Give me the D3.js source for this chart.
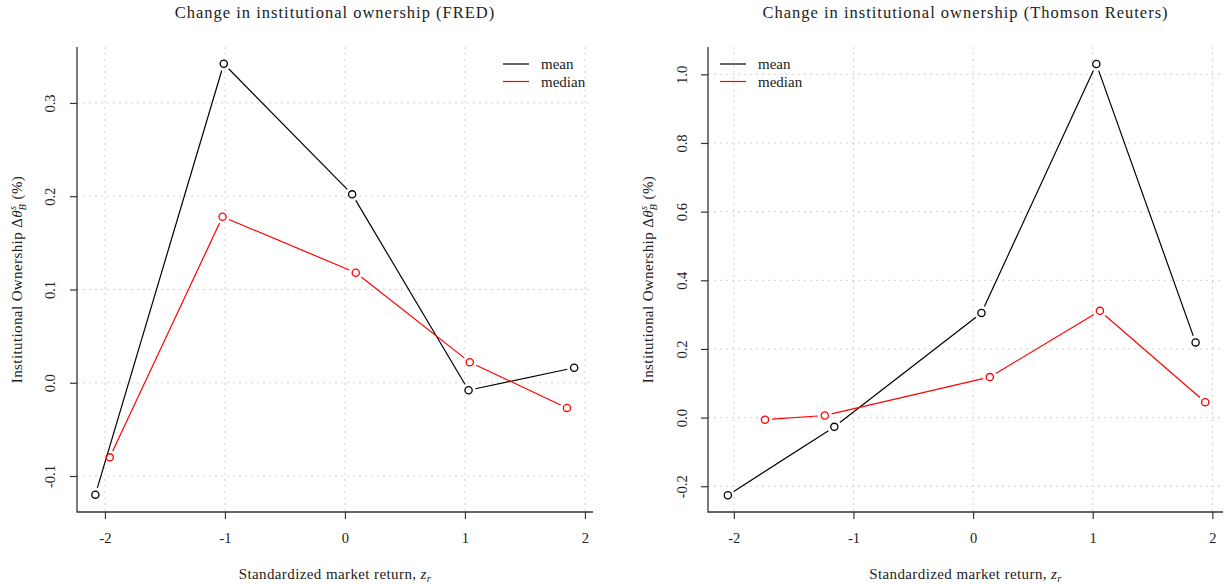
<!DOCTYPE html>
<html>
<head>
<meta charset="utf-8">
<script src="https://cdn.jsdelivr.net/npm/d3@7"></script>
<style>
  body { margin: 0; background: #fff; }
  text { font-family: "Liberation Serif", "DejaVu Serif", serif; fill: #222; }
  .grid line { stroke: #d0d0d0; stroke-dasharray: 2,4; stroke-width: 1; }
</style>
</head>
<body>
<svg id="chart" width="1224" height="584"></svg>
<script>
// ---- DATA ---- //
const seriesNames = ["mean", "median"];
const seriesColors = ["#000000", "#ff0000"];

// FRED panel
const fredMeanX = [-2.08, -1.01, 0.06, 1.03, 1.91];
const fredMeanY = [-0.120, 0.342, 0.202, -0.008, 0.016];
const fredMedianX = [-1.96, -1.02, 0.09, 1.04, 1.85];
const fredMedianY = [-0.080, 0.178, 0.118, 0.022, -0.027];

// Thomson Reuters panel
const trMeanX = [-2.05, -1.16, 0.07, 1.03, 1.86];
const trMeanY = [-0.226, -0.027, 0.305, 1.030, 0.219];
const trMedianX = [-1.74, -1.24, 0.14, 1.06, 1.94];
const trMedianY = [-0.006, 0.006, 0.118, 0.311, 0.045];

const xTicks = [-2, -1, 0, 1, 2];
const fredYTicks = [-0.1, 0.0, 0.1, 0.2, 0.3];
const trYTicks = [-0.2, 0.0, 0.2, 0.4, 0.6, 0.8, 1.0];

const svg = d3.select("#chart");

// plain hyphen for negatives, like the original
const fmtX = d => String(d);
const fmtY = d => d.toFixed(1).replace("\u2212", "-");

// ---- PANEL ---- //
function drawPanel(opt) {
  const x = d3.scaleLinear().domain(opt.xDomain).range([opt.left, opt.right]);
  const y = d3.scaleLinear().domain(opt.yDomain).range([opt.bottom, opt.top]);
  const g = svg.append("g");

  // grid
  const grid = g.append("g").attr("class", "grid");
  grid.selectAll(".vg").data(xTicks).enter().append("line")
    .attr("x1", d => x(d)).attr("x2", d => x(d))
    .attr("y1", opt.top).attr("y2", opt.bottom);
  grid.selectAll(".hg").data(opt.yTicks).enter().append("line")
    .attr("x1", opt.left).attr("x2", opt.right)
    .attr("y1", d => y(d)).attr("y2", d => y(d));

  // axes
  const xAxis = d3.axisBottom(x).tickValues(xTicks).tickSize(7).tickPadding(14)
    .tickFormat(fmtX);
  const gx = g.append("g").attr("transform", "translate(0," + opt.bottom + ")").call(xAxis);
  const yAxis = d3.axisLeft(y).tickValues(opt.yTicks).tickSize(7).tickFormat(fmtY);
  const gy = g.append("g").attr("transform", "translate(" + opt.left + ",0)").call(yAxis);
  [gx, gy].forEach(a => {
    a.select(".domain").remove();
    a.selectAll(".tick line").attr("stroke", "#333").attr("stroke-width", 1.2);
    a.selectAll("text").style("font-family", "Liberation Serif, serif")
      .style("font-size", "14.5px").attr("fill", "#222");
  });
  gy.selectAll(".tick text")
    .attr("x", 0).attr("y", 0).attr("dy", null)
    .attr("text-anchor", "middle")
    .attr("dominant-baseline", "central")
    .attr("transform", "translate(" + (opt.yLabelX - opt.left) + ",0) rotate(-90)");
  // L-shaped box
  g.append("path")
    .attr("d", "M" + opt.left + "," + opt.top + "V" + opt.bottom + "H" + opt.right)
    .attr("fill", "none").attr("stroke", "#333").attr("stroke-width", 1.3);

  // series: lines with gaps around points (R type = "b")
  const gap = 7;
  opt.series.forEach((s, si) => {
    const pts = s.xs.map((v, i) => [x(v), y(s.ys[i])]);
    const segs = d3.pairs(pts).map(([a, b]) => {
      const dx = b[0] - a[0], dy = b[1] - a[1];
      const len = Math.sqrt(dx * dx + dy * dy);
      const ux = dx / len, uy = dy / len;
      return [a[0] + ux * gap, a[1] + uy * gap, b[0] - ux * gap, b[1] - uy * gap];
    });
    g.selectAll(".seg" + si).data(segs).enter().append("line")
      .attr("x1", d => d[0]).attr("y1", d => d[1])
      .attr("x2", d => d[2]).attr("y2", d => d[3])
      .attr("stroke", seriesColors[si]).attr("stroke-width", 1.2);
    g.selectAll(".pt" + si).data(pts).enter().append("circle")
      .attr("cx", d => d[0]).attr("cy", d => d[1]).attr("r", 3.6)
      .attr("fill", "none").attr("stroke", seriesColors[si]).attr("stroke-width", 1.3);
  });

  // legend
  seriesNames.forEach((name, i) => {
    const ly = opt.legendY + i * 17.5;
    g.append("line")
      .attr("x1", opt.legendX).attr("x2", opt.legendX + 26)
      .attr("y1", ly).attr("y2", ly)
      .attr("stroke", seriesColors[i]).attr("stroke-width", 1.2);
    g.append("text")
      .attr("x", opt.legendX + 38).attr("y", ly)
      .attr("dominant-baseline", "central")
      .style("font-size", "15px").text(name);
  });

  // title
  g.append("text")
    .attr("x", (opt.left + opt.right) / 2).attr("y", 18)
    .attr("text-anchor", "middle")
    .style("font-size", "16.5px").style("letter-spacing", "1px").text(opt.title);

  // x label
  const xl = g.append("text")
    .attr("x", (opt.left + opt.right) / 2).attr("y", 579)
    .attr("text-anchor", "middle")
    .style("font-size", "15px").style("letter-spacing", "0.4px");
  xl.append("tspan").text("Standardized market return, ");
  xl.append("tspan").style("font-style", "italic").text("z");
  xl.append("tspan").style("font-style", "italic").style("font-size", "10.5px").attr("dy", 3).text("r");

  // y label
  const yl = g.append("text")
    .attr("transform", "translate(" + opt.yTitleX + "," + ((opt.top + opt.bottom) / 2) + ") rotate(-90)")
    .attr("text-anchor", "middle")
    .style("font-size", "15px").style("letter-spacing", "0.4px");
  yl.append("tspan").text("Institutional Ownership \u0394");
  yl.append("tspan").style("font-style", "italic").text("\u03b8");
  yl.append("tspan").style("font-style", "italic").style("font-size", "10.5px").attr("dy", -6).text("s");
  yl.append("tspan").style("font-style", "italic").style("font-size", "10.5px").attr("dx", -5).attr("dy", 10).text("B");
  yl.append("tspan").attr("dy", -4).text(" (%)");
}

drawPanel({
  left: 77, right: 593, top: 47, bottom: 512,
  xDomain: [-2.233, 2.067], yDomain: [-0.1386, 0.360],
  yTicks: fredYTicks, yLabelX: 50, yTitleX: 22,
  series: [{xs: fredMeanX, ys: fredMeanY}, {xs: fredMedianX, ys: fredMedianY}],
  legendX: 503, legendY: 64,
  title: "Change in institutional ownership (FRED)"
});

drawPanel({
  left: 708, right: 1223, top: 47, bottom: 512,
  xDomain: [-2.216, 2.089], yDomain: [-0.275, 1.0796],
  yTicks: trYTicks, yLabelX: 682, yTitleX: 653,
  series: [{xs: trMeanX, ys: trMeanY}, {xs: trMedianX, ys: trMedianY}],
  legendX: 720, legendY: 64,
  title: "Change in institutional ownership (Thomson Reuters)"
});
</script>
</body>
</html>
